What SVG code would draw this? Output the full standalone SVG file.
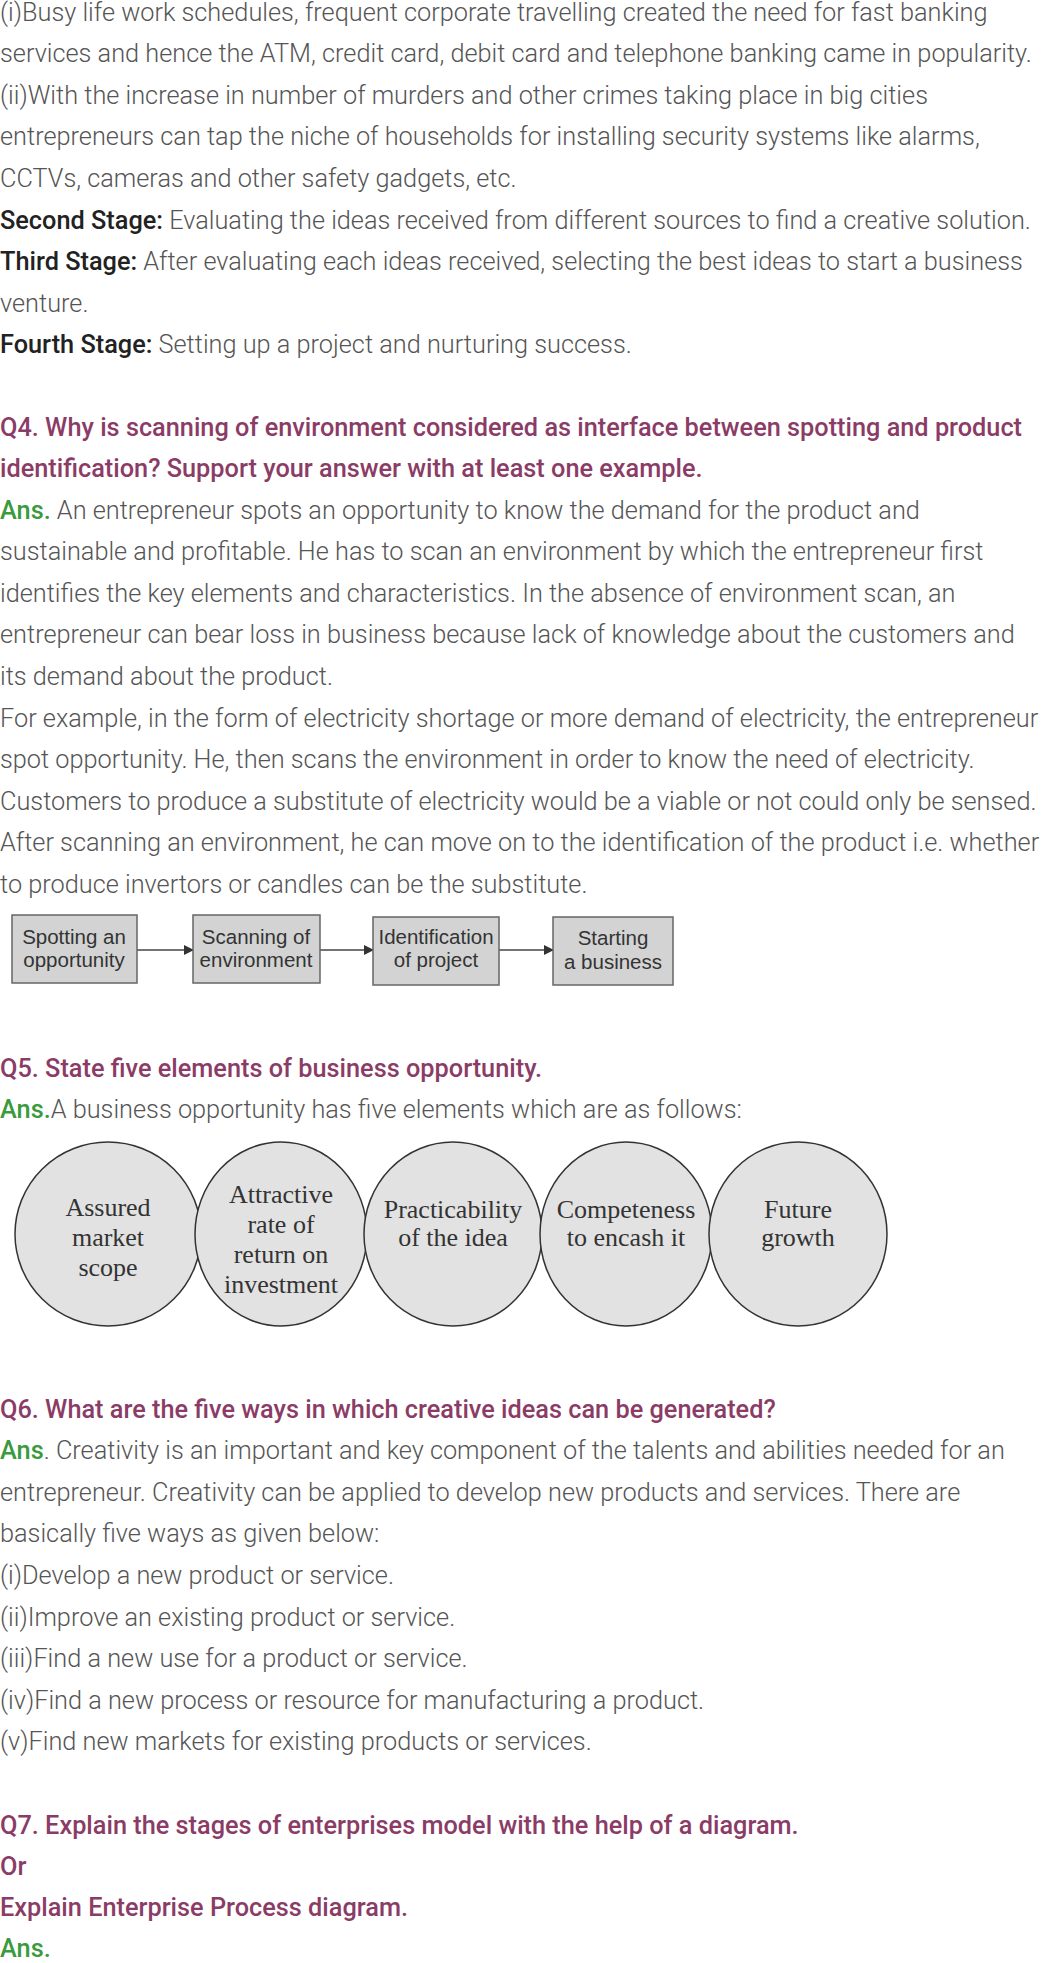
<svg xmlns="http://www.w3.org/2000/svg" width="1053" height="1963" viewBox="0 0 1053 1963">
<style>
text{font-family:Roboto,"Liberation Sans",sans-serif;font-size:25.3px}
.b{fill:#555;font-weight:300}
.s{fill:#222;font-weight:500}
.q{fill:#8b3c66;font-weight:500}
.a{fill:#3a9a3e;font-weight:500}
.bx{fill:#d3d3d3;stroke:#666;stroke-width:1.5}
.bt{font-family:"Liberation Sans",Arial,sans-serif;font-size:20.5px;fill:#333;text-anchor:middle}
.el{fill:#e2e2e2;stroke:#333;stroke-width:1.5}
.et{font-family:"Liberation Serif","Times New Roman",serif;font-size:26px;fill:#333;text-anchor:middle}
.cn{stroke:#444;stroke-width:1.5;fill:none}
</style>
<defs><marker id="ah" markerWidth="10" markerHeight="10" refX="9" refY="5" orient="auto" markerUnits="userSpaceOnUse"><path d="M0,0L10,5L0,10z" fill="#333"/></marker></defs>
<rect width="1053" height="1963" fill="#fff"/>
<g id="text1">
<text x="0" y="21" class="b">(i)Busy life work schedules, frequent corporate travelling created the need for fast banking</text>
<text x="0" y="62" class="b">services and hence the ATM, credit card, debit card and telephone banking came in popularity.</text>
<text x="0" y="104" class="b">(ii)With the increase in number of murders and other crimes taking place in big cities</text>
<text x="0" y="145" class="b">entrepreneurs can tap the niche of households for installing security systems like alarms,</text>
<text x="0" y="187" class="b">CCTVs, cameras and other safety gadgets, etc.</text>
<text x="0" y="229" class="b"><tspan class="s">Second Stage:</tspan> Evaluating the ideas received from different sources to find a creative solution.</text>
<text x="0" y="270" class="b"><tspan class="s">Third Stage:</tspan> After evaluating each ideas received, selecting the best ideas to start a business</text>
<text x="0" y="312" class="b">venture.</text>
<text x="0" y="353" class="b"><tspan class="s">Fourth Stage:</tspan> Setting up a project and nurturing success.</text>
<text x="0" y="436" class="q">Q4. Why is scanning of environment considered as interface between spotting and product</text>
<text x="0" y="477" class="q">identification? Support your answer with at least one example.</text>
<text x="0" y="519" class="b"><tspan class="a">Ans.</tspan> An entrepreneur spots an opportunity to know the demand for the product and</text>
<text x="0" y="560" class="b">sustainable and profitable. He has to scan an environment by which the entrepreneur first</text>
<text x="0" y="602" class="b">identifies the key elements and characteristics. In the absence of environment scan, an</text>
<text x="0" y="643" class="b">entrepreneur can bear loss in business because lack of knowledge about the customers and</text>
<text x="0" y="685" class="b">its demand about the product.</text>
<text x="0" y="727" class="b">For example, in the form of electricity shortage or more demand of electricity, the entrepreneur</text>
<text x="0" y="768" class="b">spot opportunity. He, then scans the environment in order to know the need of electricity.</text>
<text x="0" y="810" class="b">Customers to produce a substitute of electricity would be a viable or not could only be sensed.</text>
<text x="0" y="851" class="b">After scanning an environment, he can move on to the identification of the product i.e. whether</text>
<text x="0" y="893" class="b">to produce invertors or candles can be the substitute.</text>
</g>
<g id="connectors">
<line class="cn" x1="137" y1="950" x2="193" y2="950" marker-end="url(#ah)"/>
<line class="cn" x1="320" y1="950" x2="373" y2="950" marker-end="url(#ah)"/>
<line class="cn" x1="499" y1="950" x2="553" y2="950" marker-end="url(#ah)"/>
</g>
<g id="n1"><rect class="bx" x="12" y="915" width="125" height="68"/><text class="bt" x="74" y="944">Spotting an</text><text class="bt" x="74" y="967">opportunity</text></g>
<g id="n2"><rect class="bx" x="193" y="915" width="127" height="68"/><text class="bt" x="256" y="944">Scanning of</text><text class="bt" x="256" y="967">environment</text></g>
<g id="n3"><rect class="bx" x="373" y="917" width="126" height="68"/><text class="bt" x="436" y="944">Identification</text><text class="bt" x="436" y="967">of project</text></g>
<g id="n4"><rect class="bx" x="553" y="917" width="120" height="68"/><text class="bt" x="613" y="945">Starting</text><text class="bt" x="613" y="969">a business</text></g>
<g id="text2">
<text x="0" y="1077" class="q">Q5. State five elements of business opportunity.</text>
<text x="0" y="1118" class="b"><tspan class="a">Ans.</tspan>A business opportunity has five elements which are as follows:</text>
</g>
<g id="c1"><ellipse class="el" cx="108" cy="1234" rx="93" ry="92"/><text class="et" x="108" y="1216">Assured</text><text class="et" x="108" y="1246">market</text><text class="et" x="108" y="1276">scope</text></g>
<g id="c2"><ellipse class="el" cx="281" cy="1234" rx="86" ry="92"/><text class="et" x="281" y="1203">Attractive</text><text class="et" x="281" y="1233">rate of</text><text class="et" x="281" y="1263">return on</text><text class="et" x="281" y="1293">investment</text></g>
<g id="c3"><ellipse class="el" cx="453" cy="1234" rx="89" ry="92"/><text class="et" x="453" y="1218">Practicability</text><text class="et" x="453" y="1246">of the idea</text></g>
<g id="c4"><ellipse class="el" cx="626" cy="1234" rx="86" ry="92"/><text class="et" x="626" y="1218">Competeness</text><text class="et" x="626" y="1246">to encash it</text></g>
<g id="c5"><ellipse class="el" cx="798" cy="1234" rx="89" ry="92"/><text class="et" x="798" y="1218">Future</text><text class="et" x="798" y="1246">growth</text></g>
<g id="text3">
<text x="0" y="1418" class="q">Q6. What are the five ways in which creative ideas can be generated?</text>
<text x="0" y="1459" class="b"><tspan class="a">Ans</tspan>. Creativity is an important and key component of the talents and abilities needed for an</text>
<text x="0" y="1501" class="b">entrepreneur. Creativity can be applied to develop new products and services. There are</text>
<text x="0" y="1542" class="b">basically five ways as given below:</text>
<text x="0" y="1584" class="b">(i)Develop a new product or service.</text>
<text x="0" y="1626" class="b">(ii)Improve an existing product or service.</text>
<text x="0" y="1667" class="b">(iii)Find a new use for a product or service.</text>
<text x="0" y="1709" class="b">(iv)Find a new process or resource for manufacturing a product.</text>
<text x="0" y="1750" class="b">(v)Find new markets for existing products or services.</text>
<text x="0" y="1834" class="q">Q7. Explain the stages of enterprises model with the help of a diagram.</text>
<text x="0" y="1875" class="q">Or</text>
<text x="0" y="1916" class="q">Explain Enterprise Process diagram.</text>
<text x="0" y="1957" class="a">Ans.</text>
</g>
</svg>
